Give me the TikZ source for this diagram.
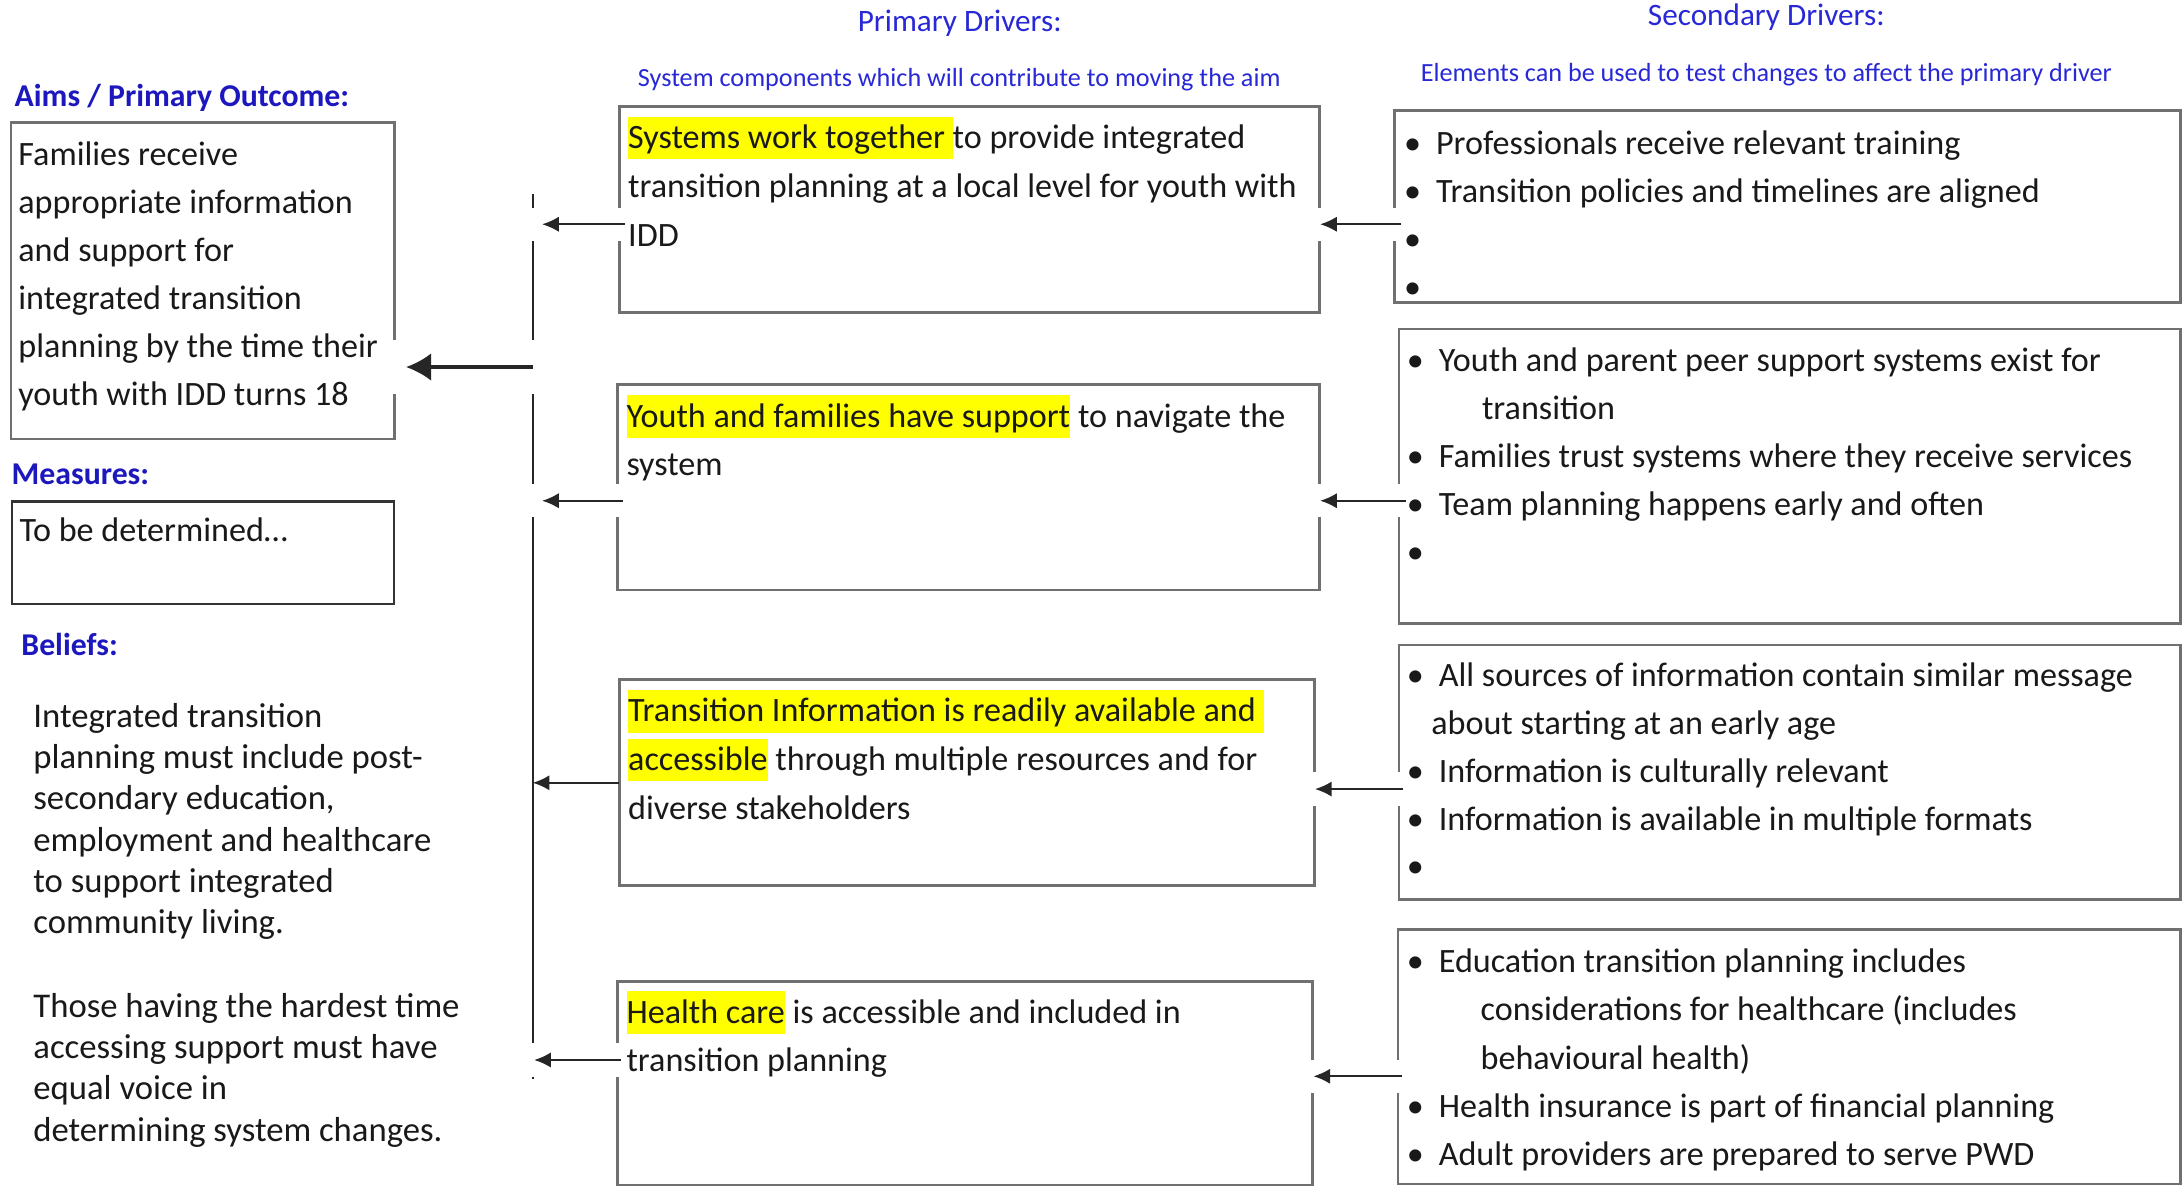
\documentclass[tikz,border=0pt]{standalone}
\usepackage{fontspec}
\setmainfont{Carlito}
\usetikzlibrary{arrows.meta,calc}
\definecolor{headblue}{RGB}{28,24,190}
\definecolor{subblue}{RGB}{40,40,215}
\definecolor{boxgray}{RGB}{112,112,112}
\definecolor{hlyellow}{RGB}{255,255,0}
\newcommand\bul{\makebox[23pt][l]{•}}
\newcommand\hl[1]{{\setlength{\fboxsep}{0pt}\colorbox{hlyellow}{\rule[-7.7pt]{0pt}{30.5pt}#1}}}
\tikzset{
  box/.style={draw=boxgray, line width=2pt, rectangle, inner sep=0pt, outer sep=0pt, anchor=north west},
  body/.style={anchor=base west, inner sep=0pt, outer sep=0pt, text=black!90, font=\fontsize{24.5}{34.6}\selectfont},
  belief/.style={anchor=base west, inner sep=0pt, outer sep=0pt, text=black!90, font=\fontsize{24.9}{29.6}\selectfont},
  head/.style={anchor=base west, inner sep=0pt, text=headblue, font=\bfseries\fontsize{22.8}{27}\selectfont},
  title/.style={anchor=base, inner sep=0pt, text=subblue, font=\fontsize{22.4}{27}\selectfont},
  subtitle/.style={anchor=base, inner sep=0pt, text=subblue, font=\fontsize{18.8}{22}\selectfont},
  arr/.style={-{Latex[length=12pt,width=11pt]}, line width=1.4pt, draw=black!85},
  bigarr/.style={-{Latex[length=18pt,width=20pt]}, line width=2.2pt, draw=black!85},
  band/.style={draw=white, line width=24pt},
  busline/.style={line width=1.3pt, draw=black!85},
}
\begin{document}
\begin{tikzpicture}[x=1pt,y=-1pt]
\useasboundingbox[fill=white] (0,0) rectangle (1568,852);

% ---------- boxes ----------
\node[box, minimum width=275.2pt, minimum height=227.1pt] (aims) at (7.9,88) {};
\node[box, draw=black!80, line width=1.6pt, minimum width=274.3pt, minimum height=73.8pt] (meas) at (8.8,360) {};
\node[box, minimum width=502.6pt, minimum height=147.6pt] (p1) at (444.7,76.7) {};
\node[box, minimum width=503.7pt, minimum height=147.6pt] (p2) at (443.6,276) {};
\node[box, minimum width=498.9pt, minimum height=147.8pt] (p3) at (444.7,487.8) {};
\node[box, minimum width=498.9pt, minimum height=146.3pt] (p4) at (443.6,704.4) {};
\node[box, minimum width=564.5pt, minimum height=137.7pt] (s1) at (1001.1,79.5) {};
\node[box, minimum width=561.2pt, minimum height=211.3pt] (s2) at (1004.4,236.2) {};
\node[box, minimum width=561.2pt, minimum height=182.8pt] (s3) at (1004.4,463) {};
\node[box, minimum width=561.9pt, minimum height=182.7pt] (s4) at (1003.7,667.4) {};

% ---------- bus ----------
\coordinate (bustop) at (382.5,139);
\coordinate (busbot) at (382.5,775);
\draw[busline] (bustop) -- (busbot);

% row coordinates for arrows
\coordinate (r0) at (0,263.5);
\coordinate (r1) at (0,161);
\coordinate (r2) at (0,359.5);
\coordinate (r3) at (0,562);
\coordinate (r3s) at (0,566.5);
\coordinate (r4) at (0,761);
\coordinate (r4s) at (0,772.7);

% ---------- white gaps behind arrows ----------
\draw[band, shorten <=-4pt, shorten >=-4pt] (p1.west |- r1) -- (bustop |- r1);
\draw[band, shorten <=-4pt, shorten >=-4pt] (p2.west |- r2) -- (bustop |- r2);
\draw[band, shorten <=-4pt, shorten >=-4pt] (p4.west |- r4) -- (bustop |- r4);
\draw[band, line width=39pt, shorten <=-2pt, shorten >=-4pt] (bustop |- r0) -- (aims.east |- r0);
\draw[band, shorten <=-5pt, shorten >=-4pt] (s1.west |- r1) -- (p1.east |- r1);
\draw[band, shorten <=-5pt, shorten >=-4pt] (s2.west |- r2) -- (p2.east |- r2);
\draw[band, shorten <=-5pt, shorten >=-4pt] (s3.west |- r3s) -- (p3.east |- r3s);
\draw[band, shorten <=-5pt, shorten >=-4pt] (s4.west |- r4s) -- (p4.east |- r4s);

% ---------- arrows ----------
\draw[arr, shorten <=-3.7pt, shorten >=6.7pt] (p1.west |- r1) -- (bustop |- r1);
\draw[arr, shorten <=-3.7pt, shorten >=6.7pt] (p2.west |- r2) -- (bustop |- r2);
\draw[arr] (p3.west |- r3) -- (bustop |- r3);
\draw[arr, shorten <=-2pt, shorten >=1pt] (p4.west |- r4) -- (bustop |- r4);
\draw[bigarr, shorten >=8.5pt] (bustop |- r0) -- (aims.east |- r0);
\draw[arr, shorten <=-5pt, shorten >=0.5pt] (s1.west |- r1) -- (p1.east |- r1);
\draw[arr, shorten <=-5pt, shorten >=0.5pt] (s2.west |- r2) -- (p2.east |- r2);
\draw[arr, shorten <=-3pt, shorten >=0.5pt] (s3.west |- r3s) -- (p3.east |- r3s);
\draw[arr, shorten <=-3pt, shorten >=0.5pt] (s4.west |- r4s) -- (p4.east |- r4s);

% ---------- headings ----------
\node[title] (tprim) at (689,22.7) {Primary Drivers:};
\node[subtitle] (tprimsub) at (688.7,61.9) {System components which will contribute to moving the aim};
\node[title] (tsec) at (1268.1,18.5) {Secondary Drivers:};
\node[subtitle] (tsecsub) at (1268.1,58.2) {Elements can be used to test changes to affect the primary driver};
\node[head] (haims) at (10.3,76.7) {Aims / Primary Outcome:};
\node[head] (hmeas) at (8.2,347.8) {Measures:};
\node[head] (hbel) at (15.2,470.6) {Beliefs:};

% ---------- left column text ----------
\node[body, font=\fontsize{24.5}{34.46}\selectfont] (taims) at (13.2,118.7) {\parbox[t]{270pt}{\raggedright
Families receive\\
appropriate information\\
and support for\\
integrated transition\\
planning by the time their\\
youth with IDD turns 18}};
\node[body] (tmeas) at (14,389) {To be determined…};
\node[belief] (tbel1) at (24,522.2) {\parbox[t]{400pt}{\raggedright
Integrated transition\\
planning must include post-\\
secondary education,\\
employment and healthcare\\
to support integrated\\
community living.}};
\node[belief] (tbel2) at (24,730.5) {\parbox[t]{400pt}{\raggedright
Those having the hardest time\\
accessing support must have\\
equal voice in\\
determining system changes.}};

% ---------- primary drivers text ----------
\node[body, font=\fontsize{24.5}{35.4}\selectfont] (tp1) at (451,106.5) {\parbox[t]{495pt}{\raggedright
\hl{Systems work together\ }to provide integrated\\
transition planning at a local level for youth with\\
IDD}};
\node[body, font=\fontsize{24.5}{34.9}\selectfont] (tp2) at (449.8,306.6) {\parbox[t]{495pt}{\raggedright
\hl{Youth and families have support} to navigate the\\
system}};
\node[body, font=\fontsize{24.5}{34.9}\selectfont] (tp3) at (451,518.2) {\parbox[t]{495pt}{\raggedright
\hl{Transition Information is readily available and\ }\\
\hl{accessible} through multiple resources and for\\
diverse stakeholders}};
\node[body, font=\fontsize{24.5}{35}\selectfont] (tp4) at (449.8,734.5) {\parbox[t]{495pt}{\raggedright
\hl{Health care} is accessible and included in\\
transition planning}};

% ---------- secondary drivers text ----------
\node[body, font=\fontsize{24.5}{34.5}\selectfont] (ts1) at (1008,110.7) {\parbox[t]{555pt}{\raggedright
\bul Professionals receive relevant training\\
\bul Transition policies and timelines are aligned\\
\bul\\
\bul}};
\node[body, font=\fontsize{24.5}{34.4}\selectfont] (ts2) at (1010,266.9) {\parbox[t]{555pt}{\raggedright
\bul Youth and parent peer support systems exist for\\
\hspace*{54pt}transition\\
\bul Families trust systems where they receive services\\
\bul Team planning happens early and often\\
\bul}};
\node[body, font=\fontsize{24.5}{34.3}\selectfont] (ts3) at (1010,493) {\parbox[t]{555pt}{\raggedright
\bul All sources of information contain similar message\\
\hspace*{17.6pt}about starting at an early age\\
\bul Information is culturally relevant\\
\bul Information is available in multiple formats\\
\bul}};
\node[body, font=\fontsize{24.5}{34.6}\selectfont] (ts4) at (1010,698.3) {\parbox[t]{555pt}{\raggedright
\bul Education transition planning includes\\
\hspace*{53pt}considerations for healthcare (includes\\
\hspace*{53pt}behavioural health)\\
\bul Health insurance is part of financial planning\\
\bul Adult providers are prepared to serve PWD}};
\end{tikzpicture}
\end{document}
